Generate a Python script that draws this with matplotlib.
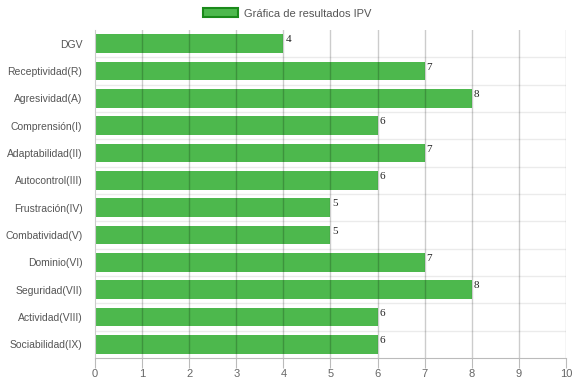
import matplotlib.pyplot as plt
from matplotlib.patches import Patch

categories = ["DGV", "Receptividad(R)", "Agresividad(A)", "Comprensión(I)",
              "Adaptabilidad(II)", "Autocontrol(III)", "Frustración(IV)",
              "Combatividad(V)", "Dominio(VI)", "Seguridad(VII)",
              "Actividad(VIII)", "Sociabilidad(IX)"]
values = [4, 7, 8, 6, 7, 6, 5, 5, 7, 8, 6, 6]
xticks = list(range(0, 11))

plt.rcParams['font.family'] = ['Liberation Sans', 'DejaVu Sans']

fig = plt.figure(figsize=(5.74, 3.83), dpi=100)
ax = fig.add_axes([0.1655, 0.0653, 0.8205, 0.8564])

pos = list(range(len(categories)))
ax.barh(pos, values, height=0.68, color="#4db84d", zorder=1)

for p, v in zip(pos, values):
    ax.text(v + 0.04, p - 0.14, str(v), fontsize=8, color="#222222",
            family="Liberation Serif", va="center", ha="left", zorder=3)

ax.set_xlim(0, 10)
ax.set_ylim(len(categories) - 0.5, -0.5)
ax.set_xticks(xticks)
ax.set_xticklabels([str(t) for t in xticks], fontsize=8, color="#666666")
ax.set_yticks(pos)
ax.set_yticklabels(categories, fontsize=7.5, color="#555555")

# vertical grid lines
for t in xticks[1:]:
    ax.axvline(t, color="#000000", alpha=0.2, lw=1, zorder=2)
# horizontal grid lines between categories
for b in range(1, len(categories)):
    ax.axhline(b - 0.5, color="#000000", alpha=0.08, lw=1, zorder=0)

for s in ["top", "right"]:
    ax.spines[s].set_visible(False)
ax.spines["left"].set_color("#cccccc")
ax.spines["bottom"].set_color("#bbbbbb")
ax.tick_params(axis="x", length=7, color="#bbbbbb", pad=1)
ax.tick_params(axis="y", length=0, pad=9)

handle = Patch(facecolor="#4db84d", edgecolor="#1a8a1a", linewidth=1.5)
fig.legend([handle], ["Gráfica de resultados IPV"], loc="upper center",
           bbox_to_anchor=(0.5, 1.005), frameon=False, fontsize=8,
           handlelength=3.2, handleheight=0.9, handletextpad=0.5,
           labelcolor="#555555")

fig.savefig("out.png", dpi=100)
